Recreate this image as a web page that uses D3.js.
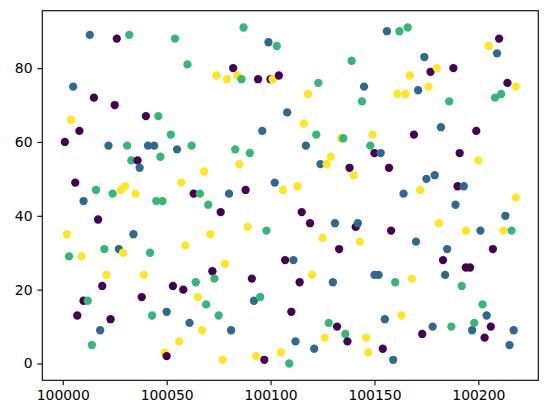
<html>
    <head>
        <script src="https://d3js.org/d3.v7.min.js"></script>
        <style>
            body{
                margin: 0;
                background: #fff;
            }
            svg text{
                font-family: 'DejaVu Sans', sans-serif;
            }
        </style>
    </head>
    <body>
        <svg id="svg" width="550" height="417"></svg>
        <script>
            // scatter points: x value, y value, category (0..3 -> viridis)
            var xs = [
                100013,100026,100032,100005,100015,100025,100004,100040,100046,100008,100001,100022,100031,100041,100044,100033,100036,100047,100037,100006,100016,100024,100028,100030,100035,
                100010,100045,100048,100017,100002,100034,100020,100027,100029,100003,100009,100042,100021,100039,100019,100038,100010,100012,100007,100023,100043,100050,100018,100014,100049,100050,
                100087,100054,100099,100103,100060,100082,100074,100079,100084,100086,100094,100100,100101,100104,100108,100096,100052,100055,100062,100083,100090,100085,100068,100057,100102,100106,100088,100063,100066,100080,
                100070,100076,100089,100098,100071,100059,100107,100078,100072,100073,100091,100053,100058,100064,100065,100069,100092,100095,100110,100075,100061,100067,100081,100056,100077,100093,100097,100105,100109,
                100156,100162,100166,100139,100167,100123,100145,100118,100144,100161,100165,100116,100122,100134,100135,100149,100117,100148,100150,100153,100129,100124,100127,100138,100157,100140,100113,100164,
                100115,100119,100131,100141,100142,100158,100125,100143,100133,100111,100120,100114,100130,100150,100152,100160,100128,100132,100155,100163,100136,100137,100126,100146,100112,100121,100147,100154,100159,
                100210,100205,100209,100174,100188,100177,100180,100214,100218,100171,100176,100186,100208,100211,100182,100169,100199,100191,100200,100179,100175,100172,100190,100193,100218,
                100189,100213,100181,100194,100201,100212,100216,100170,100185,100207,100183,100194,100196,100168,100184,100192,100202,100204,100197,100198,100206,100203,100217,100215,100178,100187,100173
            ];
            var ys = [
                89,88,89,75,72,70,66,67,67,63,60,59,59,59,59,55,55,56,53,49,47,46,47,48,46,
                44,44,44,39,35,35,31,31,30,29,29,30,24,24,21,18,17,17,13,12,13,14,9,5,3,2,
                91,88,87,86,81,80,78,77,78,77,77,77,77,78,68,63,62,58,59,58,57,54,52,49,49,47,47,46,46,46,
                43,41,37,36,35,32,28,27,25,23,23,21,20,22,18,16,17,18,14,13,11,9,9,6,1,2,1,3,0,
                90,90,91,82,78,76,75,73,71,73,73,65,62,61,61,62,59,59,57,57,56,54,54,53,53,51,48,46,
                41,38,38,37,38,36,34,33,31,28,24,22,22,24,24,22,11,10,12,13,8,6,7,7,6,4,3,4,1,
                88,86,84,83,80,79,80,76,75,74,75,71,72,73,64,62,63,57,55,51,50,47,48,48,45,
                43,40,38,36,36,36,36,33,31,31,28,26,26,23,24,21,16,13,9,11,10,7,9,5,10,10,8
            ];
            var cats = [
                1,0,2,1,0,0,3,0,2,0,0,1,2,1,1,2,0,2,1,0,2,2,3,3,3,
                1,2,2,0,3,1,2,1,3,2,3,2,3,3,0,0,0,2,0,0,2,1,1,2,3,0,
                2,2,1,2,2,0,3,3,3,2,0,0,3,0,1,1,2,1,2,2,2,3,3,3,1,3,0,0,2,1,
                2,0,3,2,3,3,0,3,0,2,0,0,0,2,3,2,1,2,0,2,1,3,1,3,3,3,0,3,2,
                1,2,2,2,3,2,1,3,2,3,3,3,2,3,2,3,1,2,0,1,3,1,3,0,0,3,3,1,
                0,0,1,0,1,0,3,3,0,1,3,0,1,1,1,2,2,0,1,3,2,0,3,3,1,1,3,0,1,
                0,3,1,1,0,0,3,0,3,1,3,2,2,2,1,0,0,0,3,1,1,3,0,1,3,
                1,1,3,3,1,3,2,1,1,0,0,0,0,3,1,2,2,1,1,2,0,0,1,1,1,2,0
            ];
            var palette = ['#440154', '#31688e', '#35b779', '#fde725'];
            var xTicks = [100000, 100050, 100100, 100150, 100200];
            var yTicks = [0, 20, 40, 60, 80];

            var svg = d3.select("svg");
            var padLeft = 42.3, padTop = 10.7, w = 496, h = 369.6;

            // matplotlib style 5% margins around the data
            function padded(ext){
                var r = ext[1] - ext[0];
                return [ext[0] - r*0.05, ext[1] + r*0.05];
            }
            var x = d3.scaleLinear().domain(padded(d3.extent(xs))).range([0, w]);
            var y = d3.scaleLinear().domain(padded(d3.extent(ys))).range([h, 0]);

            var g = svg.append("g").attr("transform", "translate(" + padLeft + "," + padTop + ")");

            g.selectAll("circle")
                .data(d3.range(xs.length))
                .enter().append("circle")
                .attr("cx", function(i){ return x(xs[i]); })
                .attr("cy", function(i){ return y(ys[i]); })
                .attr("r", 4.15)
                .attr("fill", function(i){ return palette[cats[i]]; });

            var xAxis = g.append("g")
                .attr("transform", "translate(0," + h + ")")
                .call(d3.axisBottom(x).tickValues(xTicks).tickFormat(d3.format("d"))
                    .tickSize(4.9).tickPadding(4.9).tickSizeOuter(0));
            var yAxis = g.append("g")
                .call(d3.axisLeft(y).tickValues(yTicks).tickFormat(d3.format("d"))
                    .tickSize(4.9).tickPadding(4.9).tickSizeOuter(0));

            [xAxis, yAxis].forEach(function(a){
                a.select(".domain").remove();
                a.selectAll("line").attr("stroke", "#000").attr("stroke-width", 1.1);
                a.selectAll("text").attr("fill", "#000").style("font-size", "13.9px");
            });

            g.append("rect")
                .attr("width", w).attr("height", h)
                .attr("fill", "none").attr("stroke", "#000").attr("stroke-width", 1.1);
        </script>
    </body>
</html>
